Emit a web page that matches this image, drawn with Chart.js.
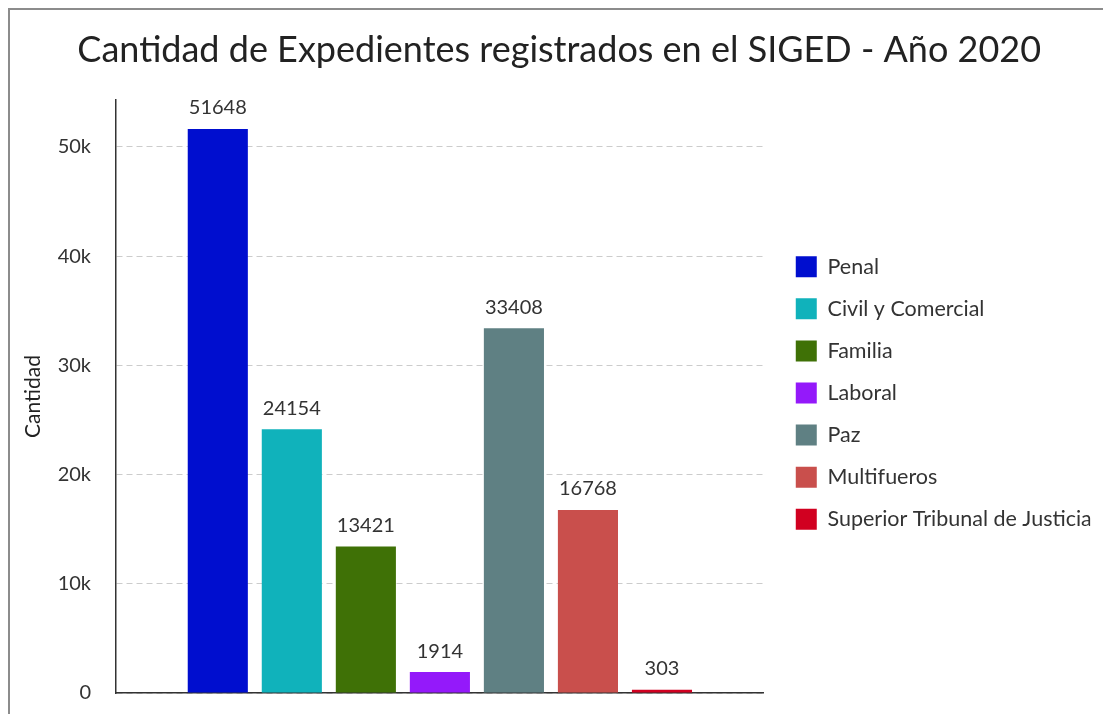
<!DOCTYPE html>
<html>
<head>
<meta charset="utf-8">
<script src="https://cdn.jsdelivr.net/npm/chart.js@4.4.0/dist/chart.umd.min.js"></script>
<style>
  html, body { margin: 0; padding: 0; background: #fff; overflow: hidden; }
  #marco { position: absolute; left: 8px; top: 8px; width: 1200px; height: 800px;
           border-left: 2px solid #8c8c8c; border-top: 2px solid #8c8c8c; }
  #wrap { position: absolute; left: 0; top: 0; width: 1103px; height: 714px; }
</style>
</head>
<body>
<div id="marco"></div>
<div id="wrap"><canvas id="grafico"></canvas></div>
<script>
// datos
const fueros = ['Penal', 'Civil y Comercial', 'Familia', 'Laboral', 'Paz', 'Multifueros', 'Superior Tribunal de Justicia'];
const expedientes = [51648, 24154, 13421, 1914, 33408, 16768, 303];
const colores = ['#000ecf', '#10b2bb', '#3f7106', '#9419fa', '#5f8083', '#c94f4c', '#d10020'];
const ticksY = [0, 10000, 20000, 30000, 40000, 50000];
const titulo = 'Cantidad de Expedientes registrados en el SIGED - Año 2020';
const tituloEje = 'Cantidad';

Chart.defaults.font.family = 'Lato';
Chart.defaults.color = '#333';

var datasets = [];
for (var i = 0; i < fueros.length; i++) {
    datasets.push({
        label: fueros[i],
        data: [expedientes[i]],
        backgroundColor: colores[i],
        categoryPercentage: 0.8,
        barPercentage: 0.812
    });
}

// etiquetas con el valor arriba de cada barra
var etiquetas = {
    id: 'etiquetas',
    afterDatasetsDraw: function (chart) {
        var ctx = chart.ctx;
        ctx.save();
        ctx.font = '20px Lato';
        ctx.fillStyle = '#333';
        ctx.textAlign = 'center';
        ctx.textBaseline = 'bottom';
        chart.data.datasets.forEach(function (ds, i) {
            var bar = chart.getDatasetMeta(i).data[0];
            ctx.fillText(ds.data[0], bar.x, bar.y - 11);
        });
        ctx.restore();
    }
};

// ajustes finos de posicion (leyenda mas separada, titulo corrido a la derecha)
var ajustes = {
    id: 'ajustes',
    afterLayout: function (chart) {
        chart.legend.left += 11.4;
        chart.legend.top -= 7;
        chart.titleBlock.left += 10;
        chart.titleBlock.right += 10;
    }
};

function dibujar() {
    new Chart(document.getElementById('grafico').getContext('2d'), {
        type: 'bar',
        data: { labels: [''], datasets: datasets },
        plugins: [etiquetas, ajustes],
        options: {
            responsive: true,
            maintainAspectRatio: false,
            animation: false,
            layout: { padding: { left: 8, top: 0, right: 12.6, bottom: 5 } },
            plugins: {
                title: {
                    display: true,
                    text: titulo,
                    color: '#222',
                    font: { size: 36, weight: 'normal', lineHeight: 1.2 },
                    padding: { top: 29, bottom: 27.8 }
                },
                legend: {
                    position: 'right',
                    fullSize: false,
                    maxWidth: 420,
                    labels: {
                        boxWidth: 21,
                        boxHeight: 21,
                        padding: 20.6,
                        font: { size: 21.5 },
                        color: '#333'
                    }
                },
                tooltip: { enabled: false }
            },
            scales: {
                x: {
                    ticks: { display: false },
                    grid: { display: false, drawTicks: false },
                    border: { display: true, color: '#333', width: 1.5 }
                },
                y: {
                    min: 0,
                    max: 54300,
                    afterFit: function (s) {
                        s.width = 108;
                        s.paddingTop = 0;
                        s.paddingBottom = 21;
                    },
                    afterBuildTicks: function (s) {
                        s.ticks = ticksY.map(function (v) { return { value: v }; });
                    },
                    ticks: {
                        padding: 25,
                        font: { size: 20 },
                        color: '#333',
                        callback: function (v) { return v === 0 ? '0' : (v / 1000) + 'k'; }
                    },
                    grid: { color: '#cccccc', drawTicks: false },
                    border: { display: true, color: '#333', width: 1.5, dash: [6, 4] },
                    title: {
                        display: true,
                        text: tituloEje,
                        font: { size: 21 },
                        color: '#222',
                        padding: { top: 13, bottom: 0 }
                    }
                }
            }
        }
    });
}

Promise.all([
    document.fonts.load('20px Lato'),
    document.fonts.load('36px Lato')
]).then(dibujar, dibujar);
</script>
</body>
</html>
